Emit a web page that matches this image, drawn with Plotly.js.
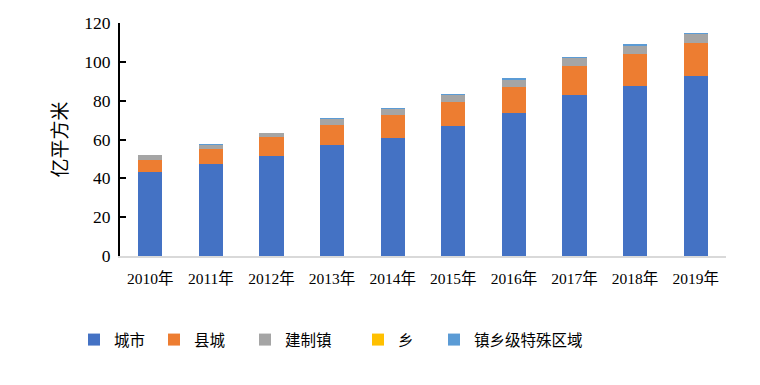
<!DOCTYPE html>
<html>
<head>
<meta charset="utf-8">
<script src="https://cdn.plot.ly/plotly-3.0.1.min.js"></script>
<style>html,body{margin:0;padding:0;background:#fff;}#chart{width:760px;height:385px;}</style>
</head>
<body>
<div id="chart"></div>
<script>
const years = ["2010年","2011年","2012年","2013年","2014年","2015年","2016年","2017年","2018年","2019年"];
const seriesNames = ["城市","县城","建制镇","乡","镇乡级特殊区域"];
const city    = [43.3, 47.4, 51.5, 57.2, 60.9, 66.9, 73.8, 83.1, 87.7, 92.8];
const county  = [6.1, 7.5, 9.6, 10.3, 11.7, 12.4, 13.4, 14.7, 16.3, 16.9];
const town    = [2.4, 2.2, 2.0, 3.2, 3.2, 3.8, 3.4, 4.2, 4.3, 4.8];
const xiang   = [0.05, 0.3, 0.05, 0.05, 0.05, 0.05, 0.1, 0.05, 0.05, 0.05];
const special = [0.1, 0.2, 0.2, 0.3, 0.3, 0.5, 0.8, 0.5, 0.8, 0.4];
const colors = ["#4472C4","#ED7D31","#A5A5A5","#FFC000","#5B9BD5"];
const values = [city, county, town, xiang, special];
const legendX = [74, 154, 245, 358, 434];

const serif = "Liberation Serif, 'Times New Roman', 'Noto Sans CJK SC', serif";
const cjk = "'Noto Sans CJK SC', sans-serif";

const traces = values.map((v, i) => ({
  type: "bar",
  name: seriesNames[i],
  x: years,
  y: v,
  marker: {color: colors[i]},
  legend: i === 0 ? "legend" : "legend" + (i + 1),
  hoverinfo: "x+y+name"
}));

const layout = {
  width: 760, height: 385,
  paper_bgcolor: "#fff", plot_bgcolor: "#fff",
  margin: {l: 120, r: 34, t: 23, b: 129},
  barmode: "stack",
  bargap: 0.6,
  showlegend: true,
  xaxis: {
    type: "category",
    showline: true, linecolor: "#D9D9D9", linewidth: 2,
    ticks: "", showgrid: false, zeroline: false,
    tickfont: {family: serif, size: 15.5, color: "#000"},
    ticklabelstandoff: 7,
    fixedrange: true
  },
  yaxis: {
    range: [0, 120], dtick: 20, tick0: 0,
    showline: true, linecolor: "#000", linewidth: 2,
    ticks: "inside", ticklen: 6, tickwidth: 2, tickcolor: "#000",
    showgrid: false, zeroline: false,
    tickfont: {family: serif, size: 17.5, color: "#000"},
    ticklabelstandoff: 4,
    title: {text: "亿平方米", font: {family: cjk, size: 19, color: "#000"}, standoff: 12},
    fixedrange: true
  }
};
const legendNames = ["legend","legend2","legend3","legend4","legend5"];
legendNames.forEach((ln, i) => {
  layout[ln] = {
    orientation: "h",
    xref: "container", yref: "container",
    x: legendX[i] / 760, y: 1 - 323 / 385,
    xanchor: "left", yanchor: "top",
    itemwidth: 30,
    font: {family: cjk, size: 15.5, color: "#000"},
    bgcolor: "rgba(0,0,0,0)"
  };
});

Plotly.newPlot("chart", traces, layout, {displayModeBar: false, staticPlot: true});
</script>
</body>
</html>
